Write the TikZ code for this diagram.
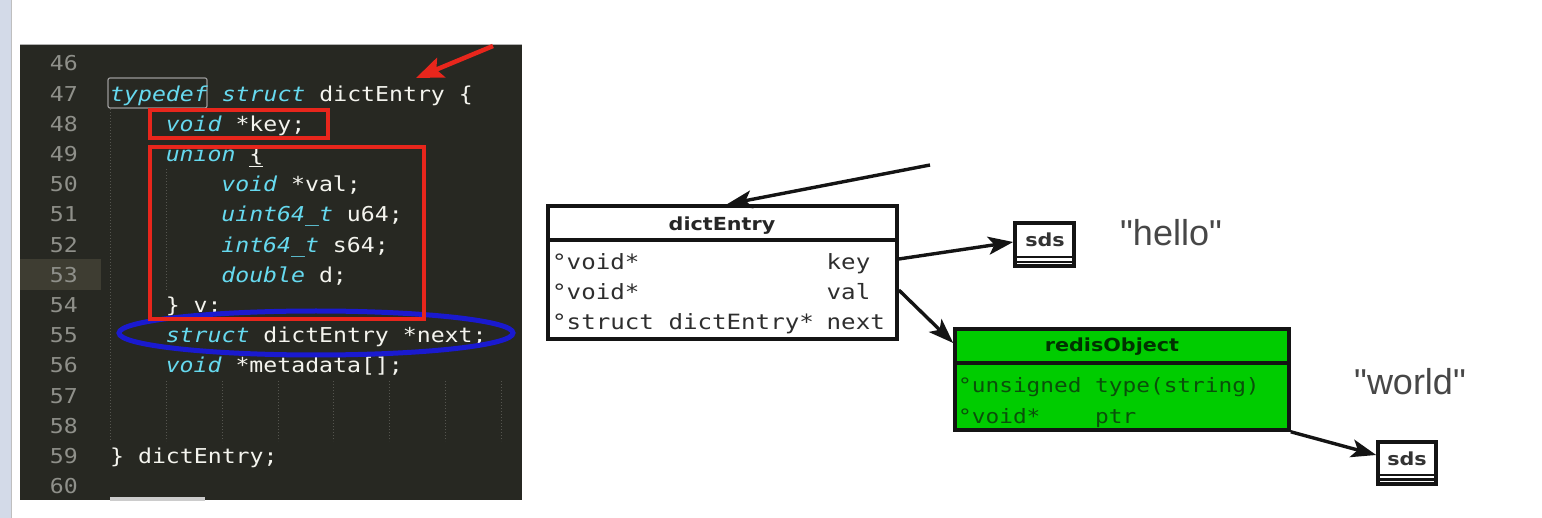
\documentclass[tikz,border=0pt]{standalone}
\usepackage{fontspec}
\usetikzlibrary{arrows.meta}
\newfontfamily\codefont[FakeStretch=1.13]{DejaVu Sans Mono}
\newfontfamily\umlmono[FakeStretch=1.15]{DejaVu Sans Mono}
\newfontfamily\umlsans[FakeStretch=1.15]{DejaVu Sans}
\newfontfamily\labelfont{Liberation Sans}
\definecolor{panelbg}{HTML}{272822}
\definecolor{gutterhl}{HTML}{3E3D32}
\definecolor{lnum}{HTML}{8F908A}
\definecolor{kwc}{HTML}{66D9EF}
\definecolor{idc}{HTML}{F4F4EE}
\definecolor{guide}{HTML}{55554F}
\definecolor{redmark}{HTML}{E8261C}
\definecolor{bluemark}{HTML}{1A1ACF}
\definecolor{umlgreen}{HTML}{00CC00}
\definecolor{umltext}{HTML}{2E2E2E}
\definecolor{greentext}{HTML}{0A500A}
\definecolor{stripc}{HTML}{D3DAE8}
\newcommand{\kw}[1]{\textcolor{kwc}{\itshape #1}}
\frenchspacing
\begin{document}
\begin{tikzpicture}[x=1pt,y=-1pt,
  codetext/.style={anchor=base west,inner sep=0pt,text=idc,font=\codefont\fontsize{20.5}{24}\selectfont},
  lnumtext/.style={anchor=base east,inner sep=0pt,text=lnum,font=\codefont\fontsize{20.5}{24}\selectfont},
  guideline/.style={guide,line width=0.8pt,dash pattern=on 1pt off 2pt},
  redbox/.style={draw=redmark,line width=4.5pt},
  umlbox/.style={draw=black!92,line width=3.6pt,inner sep=0pt},
  umlsep/.style={draw=black!92,line width=3.2pt},
  umlthin/.style={draw=black!92,line width=2.6pt},
  umltitle/.style={inner sep=0pt,font=\umlsans\bfseries\fontsize{18}{20}\selectfont},
  umlrow/.style={anchor=base west,inner sep=0pt,text=umltext,font=\umlmono\fontsize{21}{24}\selectfont},
  greenrow/.style={umlrow,text=greentext,font=\umlmono\fontsize{19.8}{22}\selectfont},
  strlabel/.style={inner sep=0pt,text=black!72,font=\labelfont\fontsize{36}{40}\selectfont},
  conn/.style={draw=black!92,line width=3.4pt,-{Stealth[length=25pt,width=18pt,inset=6pt]}}
]
\path[use as bounding box] (0,0) rectangle (1542,518);
\fill[white] (0,0) rectangle (1542,518);
% left strip
\fill[stripc] (0,0) rectangle (11,518);
\draw[black!25,line width=1pt] (11,0) -- (11,518);
% code panel
\fill[panelbg] (20,45) rectangle (522,500);
\draw[black!30,line width=1pt] (20,45) -- (522,45);
\fill[gutterhl] (20,259) rectangle (101,290);
\fill[black!20] (110,497) rectangle (205,501);
% indent guides
\draw[guideline] (110,109) -- (110,441);
\draw[guideline] (166,169) -- (166,290);
\foreach \gx in {166,222,278,333,389,445,501} \draw[guideline] (\gx,381) -- (\gx,441);
% typedef box
\draw[black!40,line width=1.2pt,rounded corners=2pt] (108,78) rectangle (207,108);
% line numbers
\foreach \n in {46,...,60} \node[lnumtext] (n\n) at (78,{63.5+30.2*(\n-46)+7.5}) {\n};
% code lines
\node[codetext] (l47) at (110,{63.5+30.2*1+7.5}) {\kw{typedef} \kw{struct} dictEntry \{};
\node[codetext] (l48) at (165.6,{63.5+30.2*2+7.5}) {\kw{void} *key;};
\node[codetext] (l49) at (165.6,{63.5+30.2*3+7.5}) {\kw{union} \underline{\{}};
\node[codetext] (l50) at (221.2,{63.5+30.2*4+7.5}) {\kw{void} *val;};
\node[codetext] (l51) at (221.2,{63.5+30.2*5+7.5}) {\kw{uint64\symbol{95}t} u64;};
\node[codetext] (l52) at (221.2,{63.5+30.2*6+7.5}) {\kw{int64\symbol{95}t} s64;};
\node[codetext] (l53) at (221.2,{63.5+30.2*7+7.5}) {\kw{double} d;};
\node[codetext] (l54) at (165.6,{63.5+30.2*8+7.5}) {\} v;};
\node[codetext] (l55) at (165.6,{63.5+30.2*9+7.5}) {\kw{struct} dictEntry *next;};
\node[codetext] (l56) at (165.6,{63.5+30.2*10+7.5}) {\kw{void} *metadata[];};
\node[codetext] (l59) at (110,{63.5+30.2*13+7.5}) {\} dictEntry;};
% marks
\draw[bluemark,line width=5pt] (316,333) ellipse (197 and 22);
\draw[redbox] (150,110) rectangle (328,138);
\draw[redbox] (150,147) rectangle (424,319);
\coordinate (redstart) at (493,46);
\coordinate (redtip) at (416,78);
\draw[redmark,line width=4.5pt,-{Stealth[length=27pt,width=21pt,inset=5pt]}] (redstart) -- (redtip);
% dictEntry UML box
\node[umlbox,fill=white,minimum width=349pt,minimum height=133pt] (dictE) at (722.5,272.5) {};
\draw[umlsep] (548,240) -- (897,240);
\node[umltitle,text=black!85] (dtitle) at (722,226) {dictEntry};
\node[umlrow] (d1a) at (552,270) {°void*};
\node[umlrow] (d1b) at (826.5,270) {key};
\node[umlrow] (d2a) at (552,300) {°void*};
\node[umlrow] (d2b) at (826.5,300) {val};
\node[umlrow] (d3a) at (552,330) {°struct dictEntry*};
\node[umlrow] (d3b) at (826.5,330) {next};
% sds 1
\node[umlbox,fill=white,minimum width=59pt,minimum height=43pt] (sdsA) at (1044.5,244.5) {};
\draw[umlthin] (1015,257) -- (1074,257);
\draw[umlthin] (1015,262) -- (1074,262);
\node[umltitle,text=black!80] (sdsAt) at (1045,240) {sds};
\node[strlabel] (hello) at (1171,233) {"hello"};
% redisObject
\node[umlbox,fill=umlgreen,minimum width=334pt,minimum height=101pt] (redis) at (1122,379.5) {};
\draw[umlsep] (955,363) -- (1289,363);
\node[umltitle,text=black!80!green] (rtitle) at (1112,347) {redisObject};
\node[greenrow] (r1a) at (958,392) {°unsigned};
\node[greenrow] (r1b) at (1095,392) {type(string)};
\node[greenrow] (r2a) at (958,423) {°void*};
\node[greenrow] (r2b) at (1095,423) {ptr};
% sds 2
\node[umlbox,fill=white,minimum width=58pt,minimum height=42pt] (sdsB) at (1407,463) {};
\draw[umlthin] (1378,475) -- (1436,475);
\draw[umlthin] (1378,479.5) -- (1436,479.5);
\node[umltitle,text=black!80] (sdsBt) at (1407,459) {sds};
\node[strlabel] (world) at (1410,382) {"world"};
% connectors
\coordinate (inA) at (930,165);
\draw[conn] (inA) -- ([xshift=4.5pt]dictE.north);
\draw[conn] ([yshift=13.5pt]dictE.east) -- ([yshift=2.5pt]sdsA.west);
\draw[conn] ([yshift=-17.5pt]dictE.east) -- ([yshift=36.5pt]redis.west);
\draw[conn] (redis.south east) -- ([yshift=8pt]sdsB.west);
\end{tikzpicture}
\end{document}
